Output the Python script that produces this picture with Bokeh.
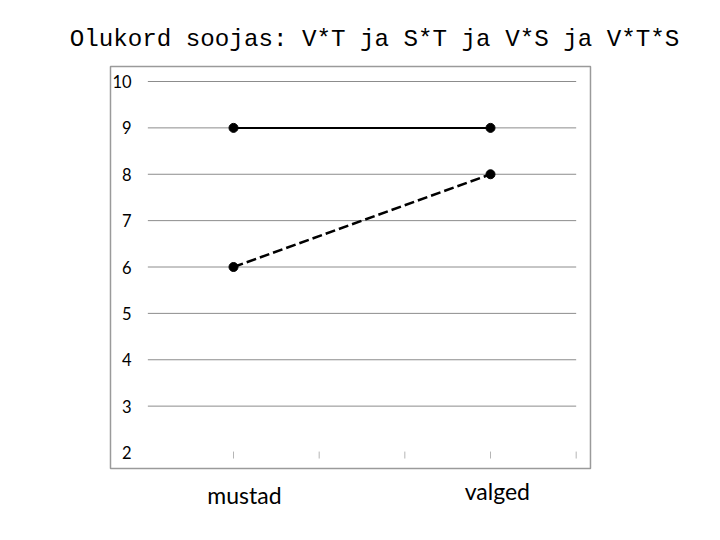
from bokeh.plotting import figure
from bokeh.models import Range1d
from bokeh.core.properties import value
from bokeh.embed import file_html
from bokeh.resources import INLINE

# ---- data ----
title_text = "Olukord soojas: V*T ja S*T ja V*S ja V*T*S"
categories = ["mustad", "valged"]
cat_pos = [1, 4]
solid_series = [9, 9]
dashed_series = [6, 8]
y_ticks = [2, 3, 4, 5, 6, 7, 8, 9, 10]
x_ticks = [1, 2, 3, 4, 5]

p = figure(width=704, height=524, output_backend="svg", toolbar_location=None,
           x_range=Range1d(-1.72, 6.498), y_range=Range1d(0.4474, 11.747),
           min_border=0)
p.xaxis.visible = False
p.yaxis.visible = False
p.xgrid.visible = False
p.ygrid.visible = False
p.outline_line_color = None
p.background_fill_color = "white"
p.border_fill_color = "white"

# plot box
p.quad(left=[-0.436], right=[5.167], bottom=[1.655], top=[10.323],
       fill_color=None, line_color="#9a9a9a", line_width=1.5)

# grid lines (y >= 3)
gy = [t for t in y_ticks if t > 2]
p.segment(x0=[0] * len(gy), x1=[5] * len(gy), y0=gy, y1=gy,
          line_color="#8c8c8c", line_width=1)

# small x ticks
p.segment(x0=x_ticks, x1=x_ticks, y0=[2.02] * len(x_ticks), y1=[1.87] * len(x_ticks),
          line_color="#b5b5b5", line_width=1)

# y tick labels
p.text(x=[-0.19] * len(y_ticks), y=y_ticks, text=[str(t) for t in y_ticks],
       text_align="right", text_baseline="middle", text_font=value("Lato"),
       text_font_size="16.5px", text_color="black")

# series
p.line(cat_pos, solid_series, line_color="black", line_width=2)
p.line(cat_pos, dashed_series, line_color="black", line_width=2.5, line_dash="10 4")
p.scatter(cat_pos, solid_series, size=9, color="black")
p.scatter(cat_pos, dashed_series, size=9, color="black")

# category labels
p.text(x=[1.128, 4.08], y=[1.073, 1.18], text=categories,
       text_align="center", text_baseline="middle",
       text_font=value("Lato"), text_font_size="23px", text_color="black")

# title
p.text(x=[2.646], y=[10.906], text=[title_text], text_align="center",
       text_baseline="middle", text_font=value("Liberation Mono"),
       text_font_size="24.2px", text_color="black")

open("out.html", "w").write(file_html(p, INLINE))
